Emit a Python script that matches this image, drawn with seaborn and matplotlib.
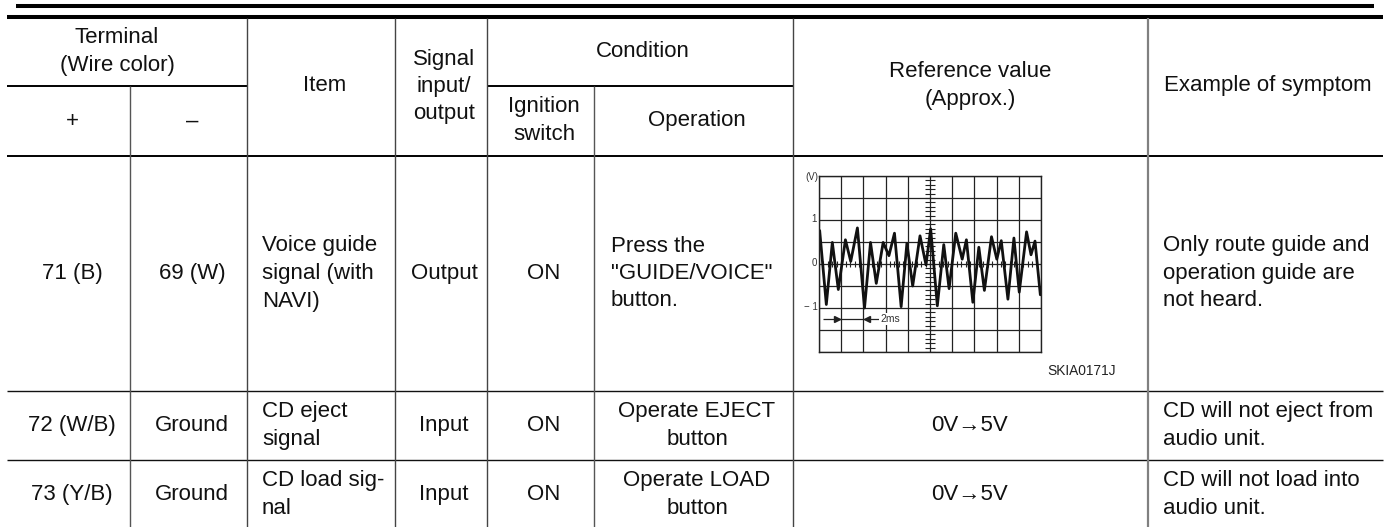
import matplotlib
matplotlib.use("Agg")
import matplotlib.pyplot as plt
import numpy as np
import pandas as pd
import seaborn as sns

# Waveform (ms, V)
wave_t = [0.03, 0.33, 0.60, 0.87, 1.19, 1.43, 1.73, 2.05, 2.32, 2.58, 2.89, 3.15, 3.40,
          3.70, 3.96, 4.22, 4.55, 4.82, 5.03, 5.33, 5.62, 5.86, 6.16, 6.45, 6.64, 6.93,
          7.20, 7.45, 7.77, 8.01, 8.21, 8.51, 8.78, 9.02, 9.35, 9.55, 9.73, 9.97]
wave_v = [0.76, -0.92, 0.49, -0.58, 0.55, 0.06, 0.82, -1.00, 0.49, -0.44, 0.49, 0.19, 0.70,
          -0.97, 0.47, -0.50, 0.64, -0.02, 0.80, -0.95, 0.44, -0.56, 0.70, 0.11, 0.55, -0.87,
          0.38, -0.60, 0.62, 0.11, 0.53, -0.80, 0.59, -0.64, 0.73, 0.21, 0.52, -0.70]

# Table text, one list per column
plus_col = ["71 (B)", "72 (W/B)", "73 (Y/B)"]
minus_col = ["69 (W)", "Ground", "Ground"]
item_col = ["Voice guide\nsignal (with\nNAVI)", "CD eject\nsignal", "CD load sig-\nnal"]
io_col = ["Output", "Input", "Input"]
ignition_col = ["ON", "ON", "ON"]
operation_col = ['Press the\n"GUIDE/VOICE"\nbutton.', "Operate EJECT\nbutton", "Operate LOAD\nbutton"]
reference_col = ["", "0V\u21925V", "0V\u21925V"]
symptom_col = ["Only route guide and\noperation guide are\nnot heard.", "CD will not eject from\naudio unit.",
               "CD will not load into\naudio unit."]

W, H = 1385, 527
FS = 16
LINE = 27.5

sns.set_style("white")
plt.rcParams["font.family"] = ["Liberation Sans", "DejaVu Sans"]

fig = plt.figure(figsize=(W / 100, H / 100), dpi=100)
ax = fig.add_axes([0, 0, 1, 1])
ax.set_xlim(0, W)
ax.set_ylim(H, 0)
ax.axis("off")

# table rules
ax.hlines(6, 16, 1374, color="black", lw=2.9)
ax.hlines(17, 7, 1383, color="black", lw=2.9)
ax.hlines(86, 7, 247, color="black", lw=1.4)
ax.hlines(86, 487, 793, color="black", lw=1.4)
ax.hlines(156, 7, 1383, color="black", lw=1.4)
ax.hlines([391, 460], 7, 1383, color="#111111", lw=1)
ax.vlines([130, 594], 86, H, color="#555555", lw=1)
ax.vlines([247, 395, 487, 793], 18, H, color="#444444", lw=1)
ax.vlines(1148, 18, H, color="#808080", lw=1.6)


def cell(x, mid, text, ha="center"):
    lines = text.split("\n")
    for i, line in enumerate(lines):
        y = mid + (i - (len(lines) - 1) / 2) * LINE
        ax.text(x, y, line, ha=ha, va="baseline", fontsize=FS, color="#111111")


# header
cell(117, 57, "Terminal\n(Wire color)")
cell(325, 91, "Item")
cell(444, 92, "Signal\ninput/\noutput")
cell(643, 57, "Condition")
cell(72, 127, "+")
cell(192, 127, "\u2013")
cell(544, 126, "Ignition\nswitch")
cell(697, 126, "Operation")
cell(970, 91, "Reference value\n(Approx.)")
cell(1268, 91, "Example of symptom")

# body rows
row_mid = [279, 431, 500]
for i, mid in enumerate(row_mid):
    cell(72, mid, plus_col[i])
    cell(192, mid, minus_col[i])
    cell(262, mid, item_col[i], ha="left")
    cell(444, mid, io_col[i])
    cell(544, mid, ignition_col[i])
    cell(611 if i == 0 else 697, mid, operation_col[i], ha="left" if i == 0 else "center")
    if reference_col[i]:
        cell(970, mid, reference_col[i])
    cell(1163, mid, symptom_col[i], ha="left")

ax.text(1116, 375, "SKIA0171J", ha="right", va="baseline", fontsize=9.9, color="#222222")

# scope inset
left, right, top, bottom = 819, 1041, 176, 352
scope = fig.add_axes([left / W, 1 - bottom / H, (right - left) / W, (bottom - top) / H])
scope.set_xlim(0, 10)
scope.set_ylim(-2, 2)
scope.set_xticks(np.arange(0, 11, 1))
scope.set_yticks(np.arange(-2, 2.5, 0.5))
scope.grid(True, color="#222222", lw=0.9)
scope.tick_params(length=0, labelbottom=False, labelleft=False)
for s in scope.spines.values():
    s.set_color("#222222")
    s.set_linewidth(1)

# centre graticule ticks
scope.plot(np.full(41, 5.0), np.linspace(-2, 2, 41), ls="", marker="_", ms=7, mew=0.8, color="#222222")
scope.plot(np.arange(0, 10.01, 0.2), np.zeros(51), ls="", marker="|", ms=4, mew=0.8, color="#222222")

df = pd.DataFrame({"t": wave_t, "v": wave_v})
sns.lineplot(data=df, x="t", y="v", ax=scope, color="#111111", lw=2, sort=False, estimator=None)
scope.set_xlabel("")
scope.set_ylabel("")

# 2ms marker
scope.hlines(-1.25, 0.2, 2.7, color="#222222", lw=0.9, zorder=5)
scope.plot([0.8], [-1.25], marker=">", ms=4.5, color="#222222", zorder=5)
scope.plot([2.15], [-1.25], marker="<", ms=4.5, color="#222222", zorder=5)
scope.text(2.75, -1.25, "2ms", fontsize=7.5, va="center", ha="left", color="#333333",
           bbox=dict(facecolor="white", edgecolor="none", pad=0.6), zorder=6)

# scope axis labels
ax.text(812, 177, "(V)", fontsize=7, ha="center", va="center", color="#333333")
ax.text(814, 219, "1", fontsize=7, ha="center", va="center", color="#333333")
ax.text(814, 263, "0", fontsize=7, ha="center", va="center", color="#333333")
ax.text(811, 307, "\u2212 1", fontsize=7, ha="center", va="center", color="#333333")

fig.savefig("out.png", dpi=100, facecolor="white")
